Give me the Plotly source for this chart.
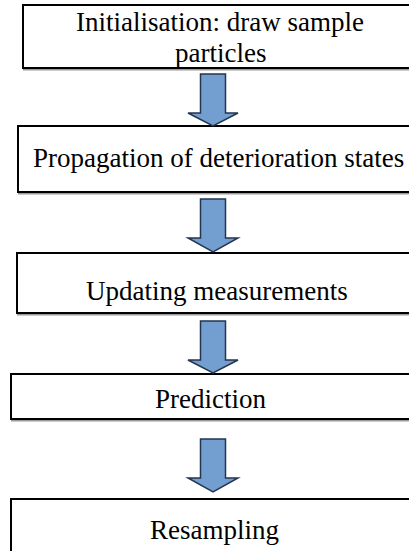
import plotly.graph_objects as go

# Flowchart content
step_lines = [
    ["Initialisation: draw sample", "particles"],
    ["Propagation of deterioration states"],
    ["Updating measurements"],
    ["Prediction"],
    ["Resampling"],
]
# Box geometry (window pixel coordinates, y downward)
box_left = [23, 18, 17, 11, 11]
box_top = [5, 126, 253, 374, 499]
box_bottom = [68, 192, 313, 419, 570]
box_right = 440
# Text line centre positions
text_y = [[22, 53], [158], [291], [399], [530]]
text_x = [220, 218, 217, 210, 214]
# Arrow geometry
arrow_cx = 213
arrow_shaft_top = [74, 199, 321, 439]
arrow_head_start = [113, 238, 360, 478]
arrow_tip = [126, 252, 373, 492]

W, H = 409, 551
fig = go.Figure()
fig.add_trace(go.Scatter(x=[0, W], y=[0, H], mode="markers",
                         marker=dict(opacity=0), hoverinfo="skip", showlegend=False))

shapes = []
for l, t, b in zip(box_left, box_top, box_bottom):
    shapes.append(dict(type="rect", x0=l + 1, x1=box_right + 1, y0=t + 1.5, y1=b + 1.5,
                       line=dict(color="#9a9a9a", width=2), fillcolor="rgba(0,0,0,0)",
                       xref="x", yref="y", layer="below"))
    shapes.append(dict(type="rect", x0=l, x1=box_right, y0=t, y1=b,
                       line=dict(color="#000000", width=2), fillcolor="white",
                       xref="x", yref="y", layer="below"))

sw, hw = 12.5, 25
for yt, yh, yp in zip(arrow_shaft_top, arrow_head_start, arrow_tip):
    cx = arrow_cx
    path = (f"M {cx-sw},{yt} L {cx+sw},{yt} L {cx+sw},{yh} L {cx+hw},{yh} "
            f"L {cx},{yp} L {cx-hw},{yh} L {cx-sw},{yh} Z")
    shapes.append(dict(type="path", path=path, fillcolor="#729fd0",
                       line=dict(color="#24354d", width=1.5), xref="x", yref="y"))

annotations = []
for lines, ys, x in zip(step_lines, text_y, text_x):
    for txt, y in zip(lines, ys):
        annotations.append(dict(x=x, y=y, text=txt, showarrow=False,
                                xanchor="center", yanchor="middle",
                                font=dict(family="Liberation Serif, Times New Roman, serif",
                                          size=27, color="#000000")))

fig.update_layout(
    width=W, height=H, margin=dict(l=0, r=0, t=0, b=0),
    paper_bgcolor="white", plot_bgcolor="white",
    xaxis=dict(range=[0, W], visible=False, fixedrange=True),
    yaxis=dict(range=[H, 0], visible=False, fixedrange=True),
    shapes=shapes, annotations=annotations, showlegend=False,
)
fig.write_html("out.html", config={"displayModeBar": False},
               post_script="document.body.style.margin='0';"
                           "document.body.style.overflow='hidden';"
                           "document.documentElement.style.overflow='hidden';")
